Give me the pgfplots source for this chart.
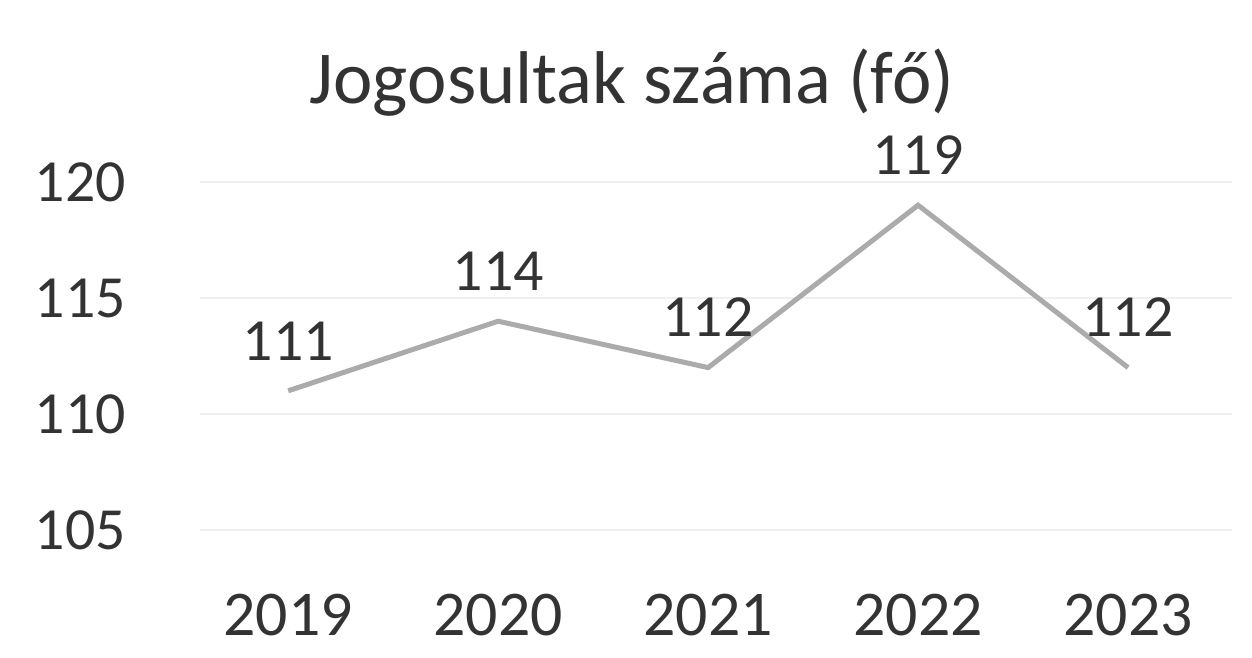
\documentclass[border=0pt]{standalone}
\usepackage{pgfplots}
\pgfplotsset{compat=1.18}
\usepackage{fontspec}
\setmainfont{Carlito}
\definecolor{txt}{HTML}{333333}
\definecolor{ln}{HTML}{ABABAB}
\definecolor{grd}{HTML}{F0F0F0}
\begin{document}
\begin{tikzpicture}
\begin{axis}[
  at={(0,0)}, anchor=south west,
  scale only axis, width=516bp, height=174bp,
  xmin=-0.42, xmax=4.495, ymin=105, ymax=120,
  axis line style={draw=none},
  xtick={0,1,2,3,4},
  xticklabels={2019,2020,2021,2022,2023},
  ytick={105,110,115,120},
  major tick length=0pt,
  ymajorgrids, grid style={grd, line width=0.8bp},
  /pgf/number format/assume math mode=true,
  ticklabel style={font=\fontsize{30}{36}\selectfont, text=txt},
  xticklabel style={anchor=center, inner sep=0pt, yshift=-42.5bp, font=\fontsize{32}{38}\selectfont},
  yticklabel style={anchor=east, inner sep=0pt, xshift=-37bp},
  title={Jogosultak száma (fő)},
  title style={at={(axis description cs:0.4186,1.19)}, anchor=base,
    font=\fontsize{37.5}{44}\selectfont, text=txt, inner sep=0pt},
  clip=false,
  nodes near coords,
  every node near coord/.append style={anchor=center, yshift=25bp, inner sep=0pt,
    font=\fontsize{30}{36}\selectfont, text=txt},
]
\addplot[ln, line width=2.5bp, mark=none] coordinates {(0,111) (1,114) (2,112) (3,119) (4,112)};
\end{axis}
\useasboundingbox (-100bp,-64bp) rectangle (526bp,265bp);
\end{tikzpicture}
\end{document}
